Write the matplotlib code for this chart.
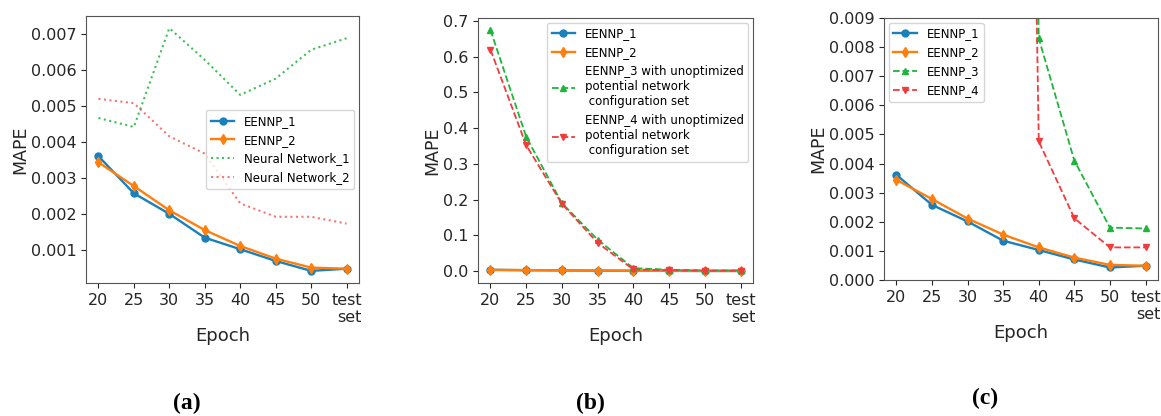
import matplotlib
matplotlib.use("Agg")
import matplotlib.pyplot as plt
import numpy as np

# Epoch categories along the x axis
epochs = ["20", "25", "30", "35", "40", "45", "50", "test\nset"]

# MAPE values per model
eennp_1 = [0.00361, 0.00258, 0.00201, 0.00135, 0.00103, 0.000705, 0.00043, 0.00049]
eennp_2 = [0.00344, 0.00278, 0.00211, 0.00156, 0.00112, 0.00077, 0.00052, 0.00049]
neural_network_1 = [0.00467, 0.00442, 0.00716, 0.00628, 0.00531, 0.00576, 0.00656, 0.00688]
neural_network_2 = [0.00520, 0.00508, 0.00416, 0.00368, 0.00230, 0.00193, 0.00193, 0.00174]
eennp_3 = [0.674, 0.3755, 0.190, 0.088, 0.0083, 0.0041, 0.0018, 0.00177]
eennp_4 = [0.619, 0.352, 0.188, 0.079, 0.00476, 0.00212, 0.00112, 0.00112]

panel_labels = ["(a)", "(b)", "(c)"]

BLUE = "#1a80bb"
ORANGE = "#ff7f0e"
GREEN = "#1db53a"
RED = "#f23c3c"

plt.rcParams["font.family"] = ["DejaVu Sans"]
fig = plt.figure(figsize=(11.61, 4.16), dpi=100)

ax_a = fig.add_axes([0.0741, 0.3197, 0.2351, 0.6418])
ax_b = fig.add_axes([0.4117, 0.3197, 0.2369, 0.6370])
ax_c = fig.add_axes([0.7614, 0.3269, 0.2360, 0.6298])

x = np.arange(len(epochs))


def plot_eennp12(ax):
    ax.plot(x, eennp_1, "-o", color=BLUE, lw=1.7, ms=5, label="EENNP_1")
    ax.plot(x, eennp_2, "-d", color=ORANGE, lw=1.7, ms=5.5, label="EENNP_2")


# (a) EENNP vs. plain neural networks
plot_eennp12(ax_a)
ax_a.plot(x, neural_network_1, ":", color=GREEN, lw=1.5, alpha=0.85, label="Neural Network_1")
ax_a.plot(x, neural_network_2, ":", color=RED, lw=1.5, alpha=0.7, label="Neural Network_2")
ax_a.set_yticks([0.001, 0.002, 0.003, 0.004, 0.005, 0.006, 0.007])
ax_a.legend(loc="center right", fontsize=8.5, handlelength=2.0, borderaxespad=0.4)

# (b) full range including unoptimized configuration sets
plot_eennp12(ax_b)
ax_b.plot(x, eennp_3, "--^", color=GREEN, lw=1.3, ms=5,
          label="EENNP_3 with unoptimized\npotential network\n configuration set")
ax_b.plot(x, eennp_4, "--v", color=RED, lw=1.3, ms=5,
          label="EENNP_4 with unoptimized\npotential network\n configuration set")
ax_b.set_yticks([0.0, 0.1, 0.2, 0.3, 0.4, 0.5, 0.6, 0.7])
ax_b.set_yticklabels(["0.0", "0.1", "0.2", "0.3", "0.4", "0.5", "0.6", "0.7"])
ax_b.legend(loc="upper right", fontsize=8.5, handlelength=2.0, borderaxespad=0.4)

# (c) zoomed view of the low-error region
plot_eennp12(ax_c)
ax_c.plot(x, eennp_3, "--^", color=GREEN, lw=1.3, ms=5, label="EENNP_3")
ax_c.plot(x, eennp_4, "--v", color=RED, lw=1.3, ms=5, label="EENNP_4")
ax_c.set_ylim(0, 0.009)
ax_c.set_yticks(np.arange(0, 0.0091, 0.001))
ax_c.set_yticklabels([f"{v:.3f}" for v in np.arange(0, 0.0091, 0.001)])
ax_c.legend(loc="upper left", fontsize=8.5, handlelength=2.0, borderaxespad=0.4)

for ax in (ax_a, ax_b, ax_c):
    ax.set_xticks(x)
    ax.set_xticklabels(epochs, multialignment="right")
    ax.tick_params(labelsize=11.5, colors="#262626", length=3.5)
    ax.set_xlabel("Epoch", fontsize=13, color="#262626", labelpad=1.5)
    ax.set_ylabel("MAPE", fontsize=12.5, color="#262626", labelpad=1)
    for s in ax.spines.values():
        s.set_color("#555555")

for label, xpos, ypos in zip(panel_labels, [187, 590, 985], [403, 403, 398]):
    fig.text(xpos / 1161, 1 - ypos / 416, label, ha="center", va="center",
             fontsize=17, fontweight="bold", family="Liberation Serif")

fig.savefig("out.png", dpi=100)
